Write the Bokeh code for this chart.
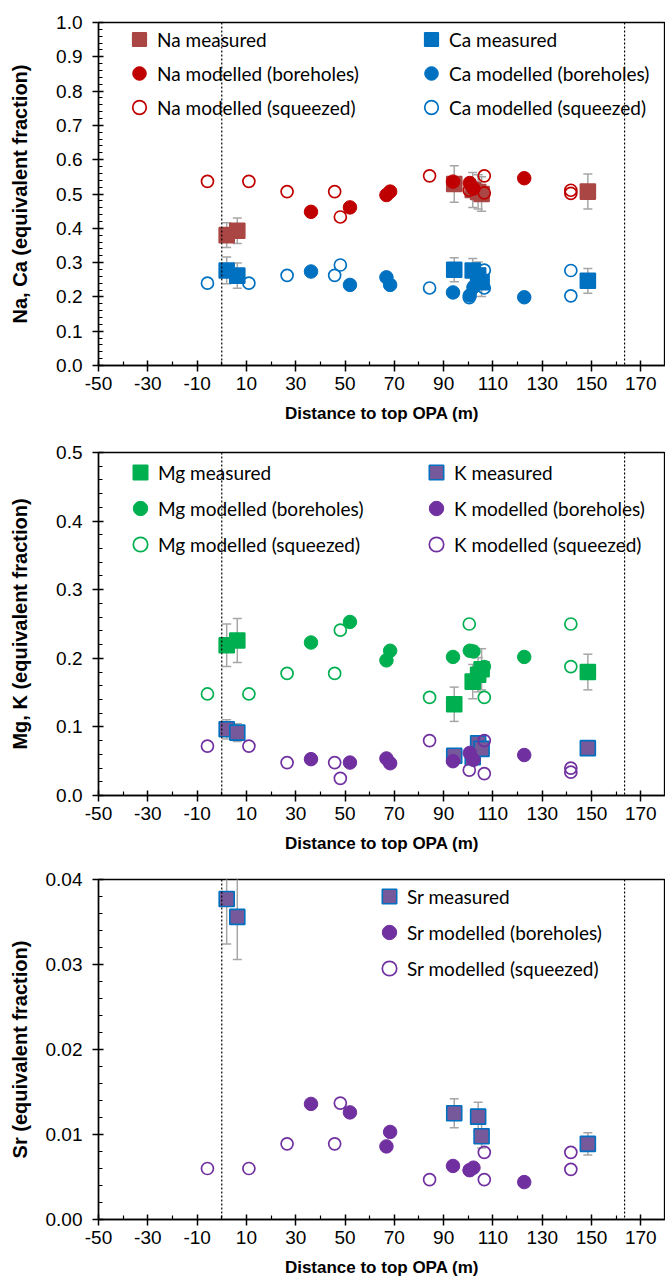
from bokeh.plotting import figure
from bokeh.layouts import column
from bokeh.models import (ColumnDataSource, FixedTicker, PrintfTickFormatter, Span,
                          Legend, LegendItem, Range1d)
from bokeh.embed import file_html
from bokeh.resources import INLINE

# ---------------- data ----------------
x_ticks = [-50, -30, -10, 10, 30, 50, 70, 90, 110, 130, 150, 170]
x_minor = [-40, -20, 0, 20, 40, 60, 80, 100, 120, 140, 160, 180]
boundaries = [0.0, 163.4]

meas_x = [2.0, 6.3, 94.3, 101.8, 104.0, 105.4, 148.5]
sr_meas_x = [2.0, 6.3, 94.3, 104.0, 105.4, 148.5]
bore_x = [36.2, 52.0, 66.8, 68.3, 93.8, 100.6, 102.1, 122.7]
sqz_x = [-5.8, 11.0, 26.5, 45.8, 48.1, 84.3, 100.4, 106.5, 106.5, 141.6, 141.6]

na_meas = [0.380, 0.393, 0.529, 0.512, 0.506, 0.500, 0.507]
na_err = [0.036, 0.037, 0.053, 0.051, 0.050, 0.050, 0.051]
ca_meas = [0.277, 0.262, 0.279, 0.277, 0.262, 0.243, 0.247]
ca_err = [0.039, 0.037, 0.035, 0.035, 0.040, 0.042, 0.036]
mg_meas = [0.219, 0.226, 0.133, 0.166, 0.176, 0.184, 0.180]
mg_err = [0.031, 0.032, 0.025, 0.025, 0.025, 0.030, 0.026]
k_meas = [0.0965, 0.0917, 0.058, 0.056, 0.076, 0.068, 0.069]
k_err = [0.014, 0.013, 0.004, 0.004, 0.004, 0.004, 0.004]
sr_meas = [0.0377, 0.0356, 0.0125, 0.0121, 0.0098, 0.0089]
sr_err = [0.0053, 0.0050, 0.0017, 0.0017, 0.0014, 0.0013]

na_bore = [0.448, 0.461, 0.497, 0.507, 0.536, 0.532, 0.516, 0.546]
ca_bore = [0.274, 0.235, 0.257, 0.235, 0.213, 0.204, 0.228, 0.199]
mg_bore = [0.223, 0.253, 0.197, 0.211, 0.202, 0.211, 0.210, 0.202]
k_bore = [0.053, 0.048, 0.054, 0.047, 0.050, 0.062, 0.052, 0.059]
sr_bore = [0.0136, 0.0126, 0.0086, 0.0103, 0.0063, 0.0058, 0.0061, 0.0044]

na_sqz = [0.537, 0.537, 0.507, 0.507, 0.433, 0.553, 0.511, 0.553, 0.503, 0.502, 0.511]
ca_sqz = [0.240, 0.240, 0.263, 0.263, 0.293, 0.226, 0.198, 0.226, 0.278, 0.277, 0.203]
mg_sqz = [0.148, 0.148, 0.178, 0.178, 0.241, 0.143, 0.250, 0.143, 0.188, 0.188, 0.250]
k_sqz = [0.072, 0.072, 0.048, 0.048, 0.025, 0.080, 0.037, 0.080, 0.032, 0.034, 0.040]
sr_sqz = [0.0060, 0.0060, 0.0089, 0.0089, 0.0137, 0.0047, 0.0058, 0.0047, 0.0079, 0.0079, 0.0059]

y1_ticks = [0.0, 0.1, 0.2, 0.3, 0.4, 0.5, 0.6, 0.7, 0.8, 0.9, 1.0]
y2_ticks = [0.0, 0.1, 0.2, 0.3, 0.4, 0.5]
y3_ticks = [0.00, 0.01, 0.02, 0.03, 0.04]

# ---------------- styling ----------------
AX_FONT = "Liberation Sans"
LEG_FONT = "Lato"
NA_SQ = "#AA4643"
RED = "#C00000"
BLUE = "#0070C0"
GREEN = "#00B050"
PURPLE = "#7030A0"
PURPLE_SQ = "#76599A"
ERR = "#A6A6A6"


def minor_list(ticks, step):
    out = []
    n = int(round((ticks[-1] - ticks[0]) / step))
    for i in range(n + 1):
        out.append(round(ticks[0] + i * step, 6))
    return out


def make_fig(h, top, bottom, y_end, yt, ystep, yfmt, ylabel, ystandoff):
    p = figure(width=665, height=h, x_range=Range1d(-50, 180), y_range=Range1d(0, y_end),
               output_backend="svg", toolbar_location=None,
               min_border_left=98, min_border_right=0,
               min_border_top=top, min_border_bottom=bottom)
    p.xgrid.visible = False
    p.ygrid.visible = False
    p.outline_line_color = "black"
    p.outline_line_width = 1.3
    p.background_fill_color = "white"
    p.border_fill_color = "white"
    p.xaxis.ticker = FixedTicker(ticks=x_ticks, minor_ticks=x_minor)
    p.xaxis.formatter = PrintfTickFormatter(format="%d")
    p.yaxis.ticker = FixedTicker(ticks=yt, minor_ticks=minor_list(yt, ystep))
    p.yaxis.formatter = PrintfTickFormatter(format=yfmt)
    p.xaxis.axis_label = "Distance to top OPA (m)"
    p.yaxis.axis_label = ylabel
    for ax in (p.xaxis[0], p.yaxis[0]):
        ax.axis_line_color = "black"
        ax.axis_line_width = 1.5
        ax.major_tick_line_color = "black"
        ax.major_tick_line_width = 1.5
        ax.minor_tick_line_color = "black"
        ax.minor_tick_line_width = 1.2
        ax.major_tick_in = 5
        ax.major_tick_out = 6
        ax.minor_tick_in = 4
        ax.minor_tick_out = 0
        ax.major_label_text_font = AX_FONT
        ax.major_label_text_font_size = "19px"
        ax.major_label_text_color = "black"
        ax.axis_label_text_font = AX_FONT
        ax.axis_label_text_font_style = "bold"
        ax.axis_label_text_color = "black"
    p.xaxis.axis_label_text_font_size = "17px"
    p.yaxis.axis_label_text_font_size = "20px"
    p.xaxis.major_label_standoff = 5
    p.xaxis.axis_label_standoff = 11
    p.yaxis.major_label_standoff = 10
    p.yaxis.axis_label_standoff = ystandoff
    for b in boundaries:
        p.add_layout(Span(location=b, dimension="height", line_color="black",
                          line_dash="2 2", line_width=1.2))
    return p


def add_errors(p, xs, ys, es):
    src = ColumnDataSource(dict(x=xs, lo=[y - e for y, e in zip(ys, es)],
                                hi=[y + e for y, e in zip(ys, es)]))
    p.segment(x0="x", y0="lo", x1="x", y1="hi", source=src, line_color=ERR, line_width=1.5)
    p.scatter(x="x", y="lo", source=src, marker="dash", size=9, line_color=ERR, line_width=1.5)
    p.scatter(x="x", y="hi", source=src, marker="dash", size=9, line_color=ERR, line_width=1.5)


def add_squares(p, xs, ys, fill, line):
    src = ColumnDataSource(dict(x=xs, y=ys))
    return p.scatter(x="x", y="y", source=src, marker="square", size=15,
                     fill_color=fill, line_color=line, line_width=1.6)


def add_filled(p, xs, ys, color):
    src = ColumnDataSource(dict(x=xs, y=ys))
    return p.scatter(x="x", y="y", source=src, marker="circle", size=13.5,
                     fill_color=color, line_color=color, line_width=1)


def add_open(p, xs, ys, color):
    src = ColumnDataSource(dict(x=xs, y=ys))
    return p.scatter(x="x", y="y", source=src, marker="circle", size=12,
                     fill_color=None, line_color=color, line_width=1.7)


def add_legend(p, entries, vx, vy, gh=36):
    leg = Legend(items=[LegendItem(label=lab, renderers=[r]) for lab, r in entries],
                 location=(vx, vy), orientation="vertical",
                 glyph_width=36, glyph_height=gh, spacing=0, padding=0, margin=0,
                 label_standoff=-7, label_height=gh,
                 label_text_font=LEG_FONT, label_text_font_size="19px",
                 label_text_color="black",
                 border_line_alpha=0, background_fill_alpha=0)
    p.add_layout(leg)


# ---------------- panel 1: Na, Ca ----------------
p1 = make_fig(428, 22, 63, 1.0, y1_ticks, 0.02, "%.1f", "Na, Ca (equivalent fraction)", 22)
add_errors(p1, meas_x, na_meas, na_err)
add_errors(p1, meas_x, ca_meas, ca_err)
r_na_m = add_squares(p1, meas_x, na_meas, NA_SQ, NA_SQ)
r_ca_m = add_squares(p1, meas_x, ca_meas, BLUE, BLUE)
r_na_b = add_filled(p1, bore_x, na_bore, RED)
r_ca_b = add_filled(p1, bore_x, ca_bore, BLUE)
r_na_s = add_open(p1, sqz_x, na_sqz, RED)
r_ca_s = add_open(p1, sqz_x, ca_sqz, BLUE)
add_legend(p1, [("Na measured", r_na_m), ("Na modelled (boreholes)", r_na_b),
                ("Na modelled (squeezed)", r_na_s)], 23, 241, gh=34)
add_legend(p1, [("Ca measured", r_ca_m), ("Ca modelled (boreholes)", r_ca_b),
                ("Ca modelled (squeezed)", r_ca_s)], 315, 241, gh=34)

# ---------------- panel 2: Mg, K ----------------
p2 = make_fig(428, 24, 61, 0.5, y2_ticks, 0.02, "%.1f", "Mg, K (equivalent fraction)", 22)
add_errors(p2, meas_x, mg_meas, mg_err)
add_errors(p2, meas_x, k_meas, k_err)
r_mg_m = add_squares(p2, meas_x, mg_meas, GREEN, GREEN)
r_k_m = add_squares(p2, meas_x, k_meas, PURPLE_SQ, BLUE)
r_mg_b = add_filled(p2, bore_x, mg_bore, GREEN)
r_k_b = add_filled(p2, bore_x, k_bore, PURPLE)
r_mg_s = add_open(p2, sqz_x, mg_sqz, GREEN)
r_k_s = add_open(p2, sqz_x, k_sqz, PURPLE)
add_legend(p2, [("Mg measured", r_mg_m), ("Mg modelled (boreholes)", r_mg_b),
                ("Mg modelled (squeezed)", r_mg_s)], 24, 233)
add_legend(p2, [("K measured", r_k_m), ("K modelled (boreholes)", r_k_b),
                ("K modelled (squeezed)", r_k_s)], 320, 233)

# ---------------- panel 3: Sr ----------------
p3 = make_fig(427, 23, 64, 0.04, y3_ticks, 0.002, "%.2f", "Sr (equivalent fraction)", 12)
add_errors(p3, sr_meas_x, sr_meas, sr_err)
r_sr_m = add_squares(p3, sr_meas_x, sr_meas, PURPLE_SQ, BLUE)
r_sr_b = add_filled(p3, bore_x, sr_bore, PURPLE)
r_sr_s = add_open(p3, sqz_x, sr_sqz, PURPLE)
add_legend(p3, [("Sr measured", r_sr_m), ("Sr modelled (boreholes)", r_sr_b),
                ("Sr modelled (squeezed)", r_sr_s)], 273, 233)

layout = column(p1, p2, p3, spacing=0)
open("out.html", "w").write(file_html(layout, INLINE))
